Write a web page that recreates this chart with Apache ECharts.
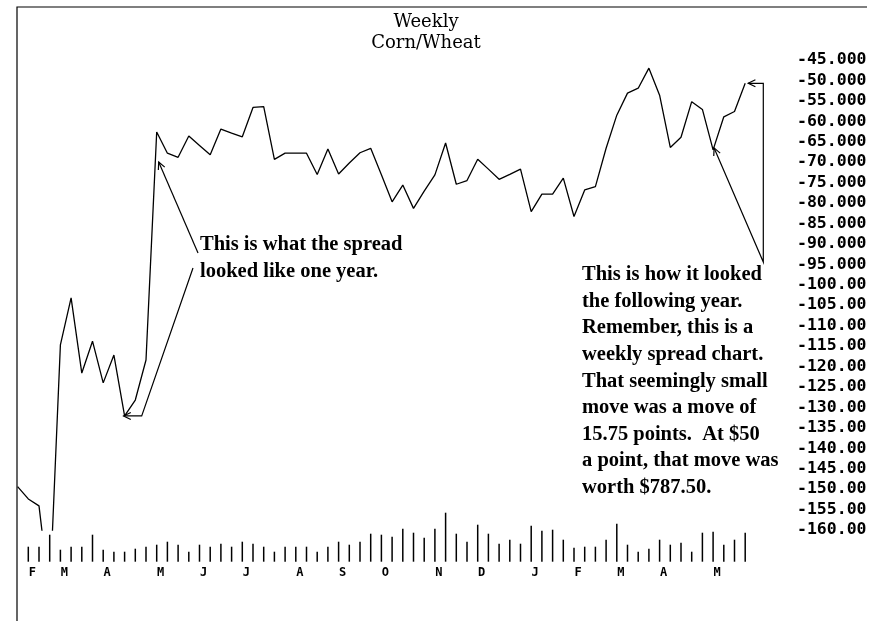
<!DOCTYPE html>
<html>
<head>
<meta charset="utf-8">
<title>Weekly Corn/Wheat</title>
<script src="https://cdn.jsdelivr.net/npm/echarts@6/dist/echarts.min.js"></script>
<style>
  html, body { margin: 0; padding: 0; background: #fff; }
  #chart { width: 885px; height: 621px; }
</style>
</head>
<body>
<div id="chart"></div>
<script>
// weekly spread value, index 0 is the partial week at the left edge
let spread = [
  -149.4, -152.4, -154.1, -176.0, -114.7, -103.2, -121.6, -113.8, -124.0, -117.2,
  -132.1, -128.2, -118.4, -62.6, -67.8, -68.8, -63.6, -65.9, -68.2, -61.9,
  -62.9, -63.8, -56.6, -56.4, -69.3, -67.8, -67.8, -67.8, -73.0, -66.8,
  -72.9, -70.2, -67.7, -66.6, -73.1, -79.7, -75.6, -81.3, -77.1, -73.1,
  -65.3, -75.4, -74.5, -69.3, -71.7, -74.2, -73.0, -71.7, -82.1, -77.8,
  -77.8, -73.9, -83.3, -76.8, -76.0, -66.6, -58.5, -53.1, -51.9, -47.0,
  -53.6, -66.4, -63.9, -55.2, -57.1, -67.0, -58.9, -57.6, -50.7
];

// volume ticks under the chart
let volume = [
  null, 15, 15, 27, 12, 15, 15, 27, 12, 10,
  10, 13, 15, 17, 20, 17, 10, 17, 15, 18,
  15, 20, 18, 15, 10, 15, 15, 15, 10, 15,
  20, 17, 20, 28, 27, 25, 33, 29, 24, 33,
  49, 28, 20, 37, 28, 18, 22, 18, 36, 31,
  32, 22, 14, 15, 15, 22, 38, 17, 10, 13,
  22, 17, 19, 10, 29, 30, 17, 22, 29
];

let monthLetters = ['F', 'M', 'A', 'M', 'J', 'J', 'A', 'S', 'O', 'N', 'D', 'J', 'F', 'M', 'A', 'M'];
let monthWeek = [1, 4, 8, 13, 17, 21, 26, 30, 34, 39, 43, 48, 52, 56, 60, 65];

let yMin = -160;
let yMax = -45;
let yStep = 5;

let titleLines = ['Weekly', 'Corn/Wheat'];
let noteLeft = ['This is what the spread', 'looked like one year.'];
let noteRight = [
  'This is how it looked',
  'the following year.',
  'Remember, this is a',
  'weekly spread chart.',
  'That seemingly small',
  'move was a move of',
  '15.75 points.  At $50',
  'a point, that move was',
  'worth $787.50.'
];

let weeks = spread.map(function (v, i) { return String(i); });

let chart = echarts.init(document.getElementById('chart'));

let monoFont = 'DejaVu Sans Mono';
let noteFont = 'bold 20.5px "Liberation Serif"';

chart.setOption({
  backgroundColor: '#fff',
  animation: false,
  grid: [
    { left: 17.6, right: 139.8, top: 60, height: 470 },
    { left: 17.6, right: 139.8, top: 501.7, height: 60 }
  ],
  xAxis: [
    { type: 'category', gridIndex: 0, data: weeks, boundaryGap: false, show: false },
    {
      type: 'category', gridIndex: 1, data: weeks, boundaryGap: false,
      axisLine: { show: false },
      axisTick: { show: false },
      axisLabel: {
        interval: function (i) { return monthWeek.indexOf(i) >= 0; },
        formatter: function (v) {
          let k = monthWeek.indexOf(Number(v));
          return k >= 0 ? monthLetters[k] : '';
        },
        margin: 5,
        padding: [0, 0, 0, 8],
        fontFamily: monoFont,
        fontWeight: 'bold',
        fontSize: 12,
        color: '#000'
      }
    }
  ],
  yAxis: [
    {
      type: 'value', gridIndex: 0, position: 'right',
      min: yMin, max: yMax, interval: yStep,
      axisLine: { show: false },
      axisTick: { show: false },
      splitLine: { show: false },
      axisLabel: {
        align: 'left',
        margin: 51.8,
        fontFamily: monoFont,
        fontWeight: 'bold',
        fontSize: 16.5,
        color: '#000',
        formatter: function (v) { return v > -100 ? v.toFixed(3) : v.toFixed(2); }
      }
    },
    { type: 'value', gridIndex: 1, min: 0, max: 60, show: false }
  ],
  series: [
    {
      type: 'line', xAxisIndex: 0, yAxisIndex: 0,
      data: spread, symbol: 'none', clip: true,
      lineStyle: { color: '#000', width: 1.3 }
    },
    {
      type: 'bar', xAxisIndex: 1, yAxisIndex: 1,
      data: volume, barWidth: 1.5,
      itemStyle: { color: '#000' }
    }
  ]
});

// arrows point at the real data points
function pt(i) {
  return chart.convertToPixel({ gridIndex: 0 }, [i, spread[i]]);
}

function head(tip, from, len) {
  let dx = from[0] - tip[0], dy = from[1] - tip[1];
  let d = Math.hypot(dx, dy);
  dx /= d; dy /= d;
  let c = Math.cos(0.45), s = Math.sin(0.45);
  return [
    [tip[0] + len * (dx * c - dy * s), tip[1] + len * (dx * s + dy * c)],
    tip,
    [tip[0] + len * (dx * c + dy * s), tip[1] + len * (-dx * s + dy * c)]
  ];
}

function line(points) {
  return { type: 'polyline', shape: { points: points }, style: { stroke: '#000', fill: null, lineWidth: 1.2 } };
}

let p13 = pt(13), p10 = pt(10), p65 = pt(65), p68 = pt(68);
let tip1 = [p13[0] + 2, p13[1] + 30];
let tip2 = [p10[0] - 1, p10[1]];
let tip3 = [p68[0] + 3, p68[1]];
let tip4 = [p65[0] + 1, p65[1] - 2];
let corner = [763.3, 262];

let g = [
  line([[17, 621], [17, 7], [867, 7]]),
  {
    type: 'text', x: 426, y: 11.5,
    style: { text: titleLines.join('\n'), font: '18px "DejaVu Serif"', fill: '#000', align: 'center', verticalAlign: 'top', lineHeight: 21 }
  },
  {
    type: 'text', x: 200, y: 231.7,
    style: { text: noteLeft.join('\n'), font: noteFont, fill: '#000', align: 'left', verticalAlign: 'top', lineHeight: 26.5 }
  },
  {
    type: 'text', x: 582, y: 261.7,
    style: { text: noteRight.join('\n'), font: noteFont, fill: '#000', align: 'left', verticalAlign: 'top', lineHeight: 26.6 }
  },
  line([[198, 253], tip1]),
  line(head(tip1, [198, 253], 8)),
  line([[193, 268], [141.7, tip2[1]], tip2]),
  line(head(tip2, [141.7, tip2[1]], 8)),
  line([tip4, corner, [corner[0], tip3[1]], tip3]),
  line(head(tip4, corner, 8)),
  line(head(tip3, [corner[0], tip3[1]], 8))
];

chart.setOption({ graphic: g });
</script>
</body>
</html>
